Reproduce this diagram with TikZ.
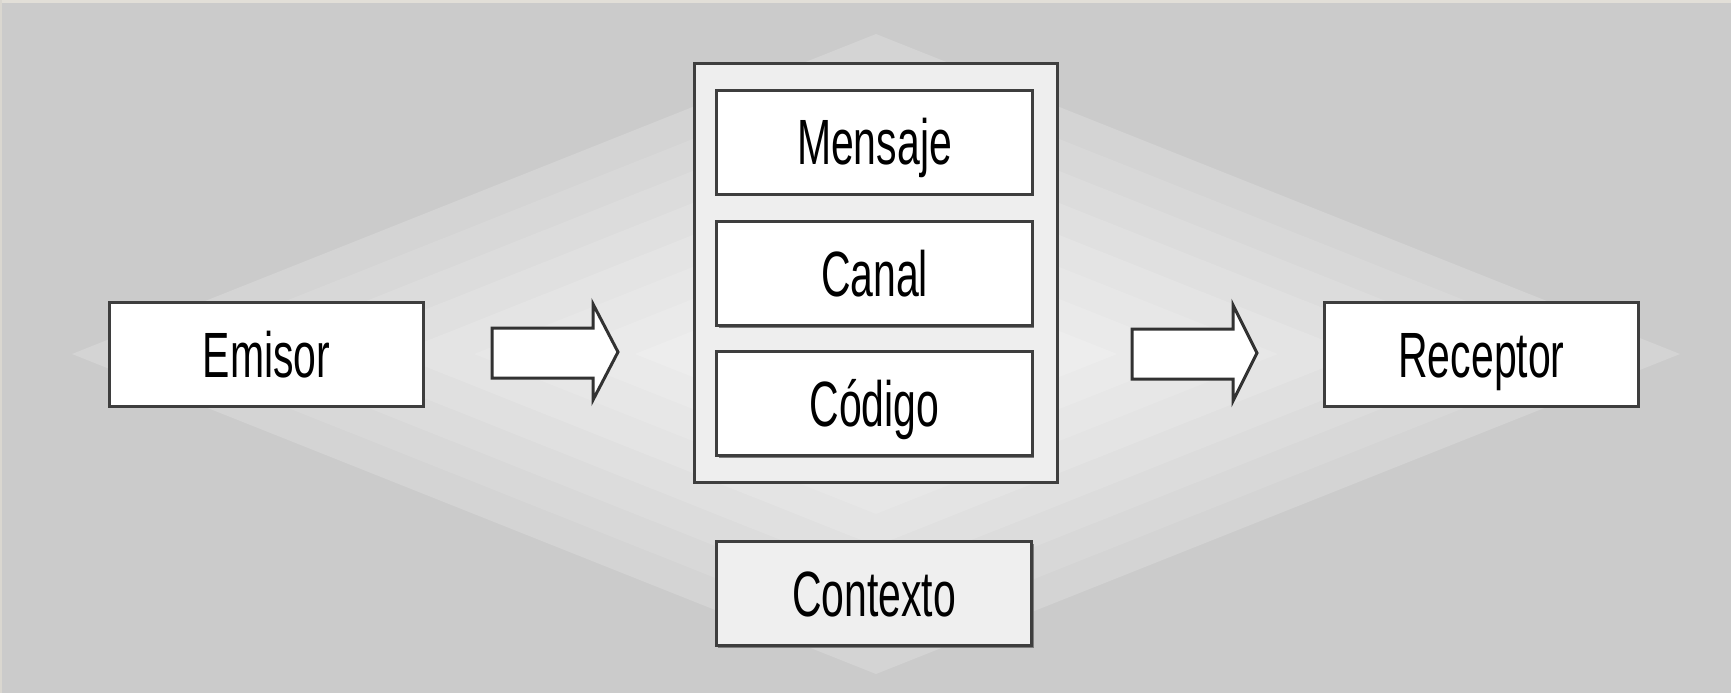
\documentclass[tikz,border=0pt]{standalone}
\usepackage{fontspec}
\setmainfont{Liberation Sans}[FakeStretch=0.64]
\usetikzlibrary{shadows}

\tikzset{every picture/.style={line width=0.75pt}}
\tikzset{
	boxshadow/.style={drop shadow={shadow xshift=1.6pt, shadow yshift=-1.6pt, fill={rgb, 255:red, 125; green, 125; blue, 125 }, opacity=1}},
	textbox/.style={draw={rgb, 255:red, 62; green, 62; blue, 62 }, line width=2.25pt, fill=white, boxshadow,
		minimum width=235pt, minimum height=77.5pt, inner sep=0pt,
		font=\fontsize{48}{50}\selectfont, text height=34.4pt, text depth=0pt},
	innerbox/.style={textbox, minimum width=236.5pt, minimum height=78pt},
	blockarrow/.style={draw={rgb, 255:red, 50; green, 50; blue, 50 }, line width=2.25pt, fill=white, line join=miter}
}

\begin{document}
\begin{tikzpicture}[x=0.75pt,y=0.75pt,yscale=-1,xscale=1]
	\useasboundingbox (0,0) rectangle (1731,693);
	%Background
	\fill [fill={rgb, 255:red, 203; green, 203; blue, 203 }] (0,0) rectangle (1731,693);
	\foreach \s/\v in {1/212,0.9/216,0.8/220,0.7/224,0.6/228,0.5/231,0.4/234,0.3/237,0.2/240,0.1/243} {
		\fill [fill={rgb, 255:red, \v; green, \v; blue, \v }] (876-804*\s,354) -- (876,354-320*\s) -- (876+804*\s,354) -- (876,354+320*\s) -- cycle ;
	}
	\fill [fill={rgb, 255:red, 226; green, 223; blue, 216 }] (0,0) rectangle (1731,3);
	\fill [fill={rgb, 255:red, 218; green, 215; blue, 208 }] (0,0) rectangle (1.5,693);

	%Shape: Rectangle (outer)
	\node [draw={rgb, 255:red, 62; green, 62; blue, 62 }, line width=2.25pt, fill={rgb, 255:red, 238; green, 238; blue, 238 }, boxshadow, minimum width=272.25pt, minimum height=314.25pt] (grupo) at (875.5,272.5) {};

	% Text Node
	\node [textbox] (emisor) at (266.5,354.5) {Emisor};
	% Text Node
	\node [textbox] (receptor) at (1481.5,354.5) {Receptor};
	% Text Node
	\node [innerbox] (mensaje) at (874.5,142) {Mensaje};
	% Text Node
	\node [innerbox] (canal) at (874.5,273.5) {Canal};
	% Text Node
	\node [innerbox] (codigo) at (874.5,403.5) {Código};
	% Text Node
	\node [innerbox, fill={rgb, 255:red, 239; green, 239; blue, 239 }] (contexto) at (874,593.5) {Contexto};

	%Right Arrow
	\draw [blockarrow] (492,328) -- (593,328) -- (593,304) -- (618,352) -- (593,400) -- (593,378) -- (492,378) -- cycle ;
	%Right Arrow
	\draw [blockarrow] (1132,329) -- (1233,329) -- (1233,305) -- (1257,353) -- (1233,401) -- (1233,379) -- (1132,379) -- cycle ;

\end{tikzpicture}
\end{document}
